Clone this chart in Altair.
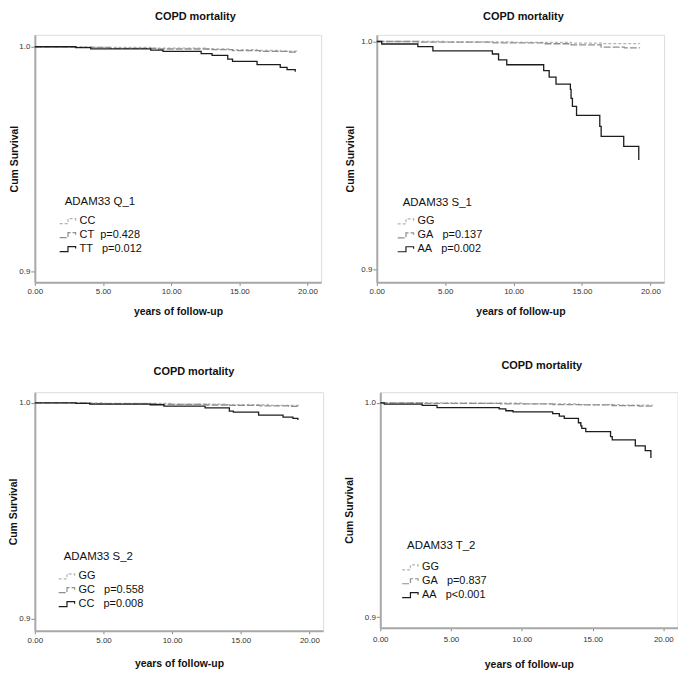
import altair as alt
import pandas as pd

# ---------------- data ----------------
# Panel 1: ADAM33 Q_1
q1_labels = ["CC", "CT\u00a0\u00a0p=0.428", "TT\u00a0\u00a0\u00a0p=0.012"]
q1_cc_t = [0, 4.3, 8.5, 12.5, 14.2, 16.3, 18.0, 19.2]
q1_cc_s = [1.0, 0.9997, 0.9994, 0.9990, 0.9987, 0.9984, 0.9980, 0.9978]
q1_ct_t = [0, 3.0, 5.5, 9.0, 13.0, 14.5, 16.5, 18.5, 19.2]
q1_ct_s = [1.0, 0.9997, 0.9993, 0.9990, 0.9987, 0.9983, 0.9979, 0.9976, 0.9974]
q1_tt_t = [0, 3.0, 4.1, 8.5, 9.4, 12.2, 13.0, 14.15, 14.5, 16.3, 18.0, 18.5, 19.1]
q1_tt_s = [1.0, 0.9996, 0.9991, 0.9985, 0.9979, 0.9969, 0.9962, 0.9945, 0.9935,
           0.9920, 0.9908, 0.9898, 0.9889]

# Panel 2: ADAM33 S_1
s1_labels = ["GG", "GA\u00a0\u00a0\u00a0p=0.137", "AA\u00a0\u00a0\u00a0p=0.002"]
s1_gg_t = [0, 5.0, 10.0, 14.2, 16.4, 19.2]
s1_gg_s = [1.0, 0.9998, 0.9996, 0.9993, 0.9991, 0.9989]
s1_ga_t = [0, 3.0, 8.5, 12.2, 14.2, 16.4, 18.1, 19.2]
s1_ga_s = [1.0, 0.9997, 0.9994, 0.9990, 0.9985, 0.9975, 0.9972, 0.9970]
s1_aa_t = [0, 0.36, 3.0, 4.1, 8.45, 8.9, 9.5, 12.2, 12.6, 13.1, 14.15, 14.2, 14.3,
           14.6, 16.3, 16.4, 18.05, 19.15]
s1_aa_s = [1.0, 0.9989, 0.9977, 0.9959, 0.9945, 0.9919, 0.9898, 0.9872, 0.9844,
           0.9813, 0.9790, 0.9750, 0.9715, 0.9676, 0.9628, 0.9584, 0.9540, 0.9480]

# Panel 3: ADAM33 S_2
s2_labels = ["GG", "GC\u00a0\u00a0\u00a0p=0.558", "CC\u00a0\u00a0\u00a0p=0.008"]
s2_gg_t = [0, 5.0, 10.0, 14.0, 17.0, 19.2]
s2_gg_s = [1.0, 0.9997, 0.9994, 0.9991, 0.9988, 0.9986]
s2_gc_t = [0, 4.0, 9.0, 12.5, 14.2, 16.4, 18.5, 19.2]
s2_gc_s = [1.0, 0.9996, 0.9993, 0.9990, 0.9988, 0.9986, 0.9984, 0.9983]
s2_cc_t = [0, 3.0, 4.0, 8.4, 9.4, 12.4, 14.17, 14.46, 16.3, 18.08, 18.8, 19.16]
s2_cc_s = [1.0, 0.9997, 0.9994, 0.9991, 0.9985, 0.9977, 0.9962, 0.9957, 0.9943,
           0.9934, 0.9928, 0.9920]

# Panel 4: ADAM33 T_2
t2_labels = ["GG", "GA\u00a0\u00a0\u00a0p=0.837", "AA\u00a0\u00a0\u00a0p<0.001"]
t2_gg_t = [0, 5.0, 10.0, 14.0, 17.0, 19.2]
t2_gg_s = [1.0, 0.9998, 0.9995, 0.9992, 0.9989, 0.9986]
t2_ga_t = [0, 3.0, 8.5, 12.2, 14.2, 16.4, 18.3, 19.2]
t2_ga_s = [1.0, 0.9997, 0.9995, 0.9992, 0.9990, 0.9987, 0.9985, 0.9984]
t2_aa_t = [0, 0.28, 2.96, 4.01, 8.40, 8.87, 9.38, 12.18, 12.65, 13.0, 14.0, 14.17,
           14.24, 14.52, 16.27, 16.39, 18.02, 18.72, 19.12]
t2_aa_s = [1.0, 0.9994, 0.9988, 0.9978, 0.9972, 0.9963, 0.9958, 0.9950, 0.9938,
           0.9927, 0.9907, 0.9892, 0.9881, 0.9866, 0.9842, 0.9827, 0.9799, 0.9777,
           0.9742]

x_ticks = [0, 5, 10, 15, 20]
y_ticks = [0.9, 1.0]

# ---------------- styling ----------------
FONT = "Liberation Sans"
LIGHT = "#b4b4b4"
MID = "#8e8e8e"
DARK = "#1c1c1c"
GLYPH = "M-2,0.42H-0.61V-0.42H0.67V-0.08"


def panel(series, legend_title, width, height, ydom, title_dx, title_offset,
          ytitle_x, x_label_pad, xtitle_pad, legend_x, legend_y, leg_title_pad):
    rows = []
    labels = []
    for label, ts, ss in series:
        labels.append(label)
        for t, s in zip(ts, ss):
            rows.append({"t": t, "S": s, "g": label})
    df = pd.DataFrame(rows)

    leg = alt.Legend(
        title=legend_title, orient="none", legendX=legend_x, legendY=legend_y,
        symbolType=GLYPH, symbolSize=144, symbolStrokeWidth=1.2,
        symbolFillColor="transparent",
        labelFont=FONT, labelFontSize=11, labelColor="#111", labelOffset=1,
        titleFont=FONT, titleFontSize=11.5, titleFontWeight="normal",
        titleColor="#111", titlePadding=leg_title_pad, rowPadding=2, padding=0,
        labelLimit=200,
    )
    xaxis = alt.Axis(
        values=x_ticks, format=".2f", title="years of follow-up",
        titleFont=FONT, titleFontSize=10.5, titleFontWeight="bold",
        titleColor="#111", titlePadding=xtitle_pad,
        labelFont=FONT, labelFontSize=8, labelColor="#333",
        labelPadding=x_label_pad, tickSize=3, tickColor="#888",
        domainColor="#a8a8a8", domainWidth=2, grid=False, labelFlush=False,
    )
    yaxis = alt.Axis(
        values=y_ticks, format=".1f", title="Cum Survival",
        titleFont=FONT, titleFontSize=10.5, titleFontWeight="bold",
        titleColor="#111", titleX=ytitle_x, titleY=height / 2,
        labelFont=FONT, labelFontSize=8, labelColor="#333",
        labelPadding=1, tickSize=4, tickColor="#888",
        domainColor="#a8a8a8", domainWidth=2, grid=False,
    )
    ch = alt.Chart(df).mark_line(interpolate="step-after", strokeWidth=1.3).encode(
        x=alt.X("t:Q", scale=alt.Scale(domain=[0, 21], nice=False, zero=False),
                axis=xaxis),
        y=alt.Y("S:Q", scale=alt.Scale(domain=ydom, nice=False, zero=False),
                axis=yaxis),
        color=alt.Color("g:N", scale=alt.Scale(domain=labels,
                                               range=[LIGHT, MID, DARK]),
                        legend=leg),
        strokeDash=alt.StrokeDash("g:N", scale=alt.Scale(
            domain=labels, range=[[3, 2], [7, 2], [1, 0]]), legend=leg),
    ).properties(
        width=width, height=height,
        title=alt.TitleParams("COPD mortality", font=FONT, fontSize=11,
                              fontWeight="bold", color="#111", anchor="middle",
                              frame="group", dx=title_dx, offset=title_offset),
    )
    return ch


p1 = panel([(q1_labels[0], q1_cc_t, q1_cc_s), (q1_labels[1], q1_ct_t, q1_ct_s),
            (q1_labels[2], q1_tt_t, q1_tt_s)], "ADAM33 Q_1",
           288, 249, [0.89513, 1.00531], 17.5, 13, -15, 2, 11, 30, 162, 7)
p2 = panel([(s1_labels[0], s1_gg_t, s1_gg_s), (s1_labels[1], s1_ga_t, s1_ga_s),
            (s1_labels[2], s1_aa_t, s1_aa_s)], "ADAM33 S_1",
           289, 249, [0.89433, 1.00292], 3, 13, -21, 2, 11, 26, 162.7, 6.5)
p3 = panel([(s2_labels[0], s2_gg_t, s2_gg_s), (s2_labels[1], s2_gc_t, s2_gc_s),
            (s2_labels[2], s2_cc_t, s2_cc_s)], "ADAM33 S_2",
           290, 240, [0.89448, 1.00492], 15, 15.5, -16, 3, 13.5, 29, 159.7, 7)
p4 = panel([(t2_labels[0], t2_gg_t, t2_gg_s), (t2_labels[1], t2_ga_t, t2_ga_s),
            (t2_labels[2], t2_aa_t, t2_aa_s)], "ADAM33 T_2",
           299, 237, [0.89504, 1.00496], 13, 21.5, -25.5, 5, 16, 27, 148.7, 9)

res = dict(x="independent", y="independent", color="independent",
           strokeDash="independent")
row1 = alt.hconcat(p1, p2, spacing=23).resolve_scale(**res)
row2 = alt.hconcat(p3, p4, spacing=20.5).resolve_scale(**res)
chart = alt.vconcat(row1, row2, spacing=42.5).resolve_scale(**res).properties(
    padding=0
).configure_view(stroke=None).configure(background="white")

chart.save("out.html", embed_options={"renderer": "svg", "actions": False})
